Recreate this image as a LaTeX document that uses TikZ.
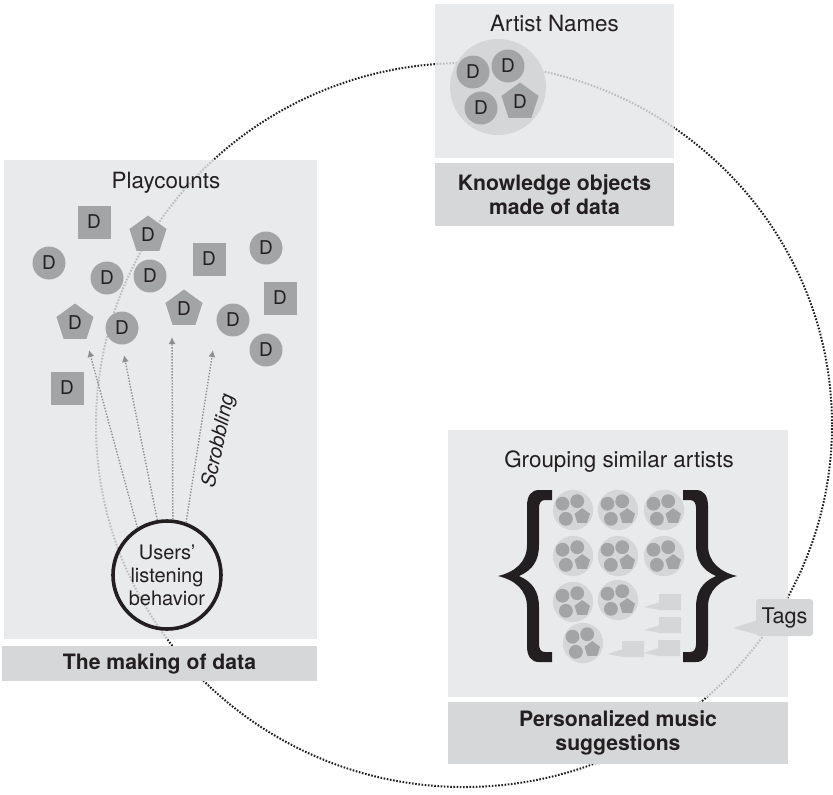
\documentclass[tikz,border=0pt]{standalone}
\usepackage{fontspec}
\setmainfont{TeX Gyre Heros}
\usepackage{tikz}
\usetikzlibrary{shapes,arrows.meta}
\definecolor{ink}{HTML}{231F20}
\definecolor{panelgray}{HTML}{E4E5E6}
\definecolor{labelgray}{HTML}{D6D7D8}
\definecolor{dgray}{HTML}{A3A4A6}
\definecolor{clustergray}{HTML}{D5D6D7}
\definecolor{orbitgray}{HTML}{1E1E1E}
\definecolor{arrowgray}{HTML}{8E8F91}
\newcommand{\dfont}{\fontsize{9.5}{11}\selectfont}
\newcommand{\titlefont}{\fontsize{11.2}{13}\selectfont}
\newcommand{\boldfont}{\fontsize{10.6}{11.8}\selectfont\bfseries}
\newcommand{\bracepath}{(54,-86) -- (41,-86) .. controls (33,-86) and (29,-80) .. (29,-70) -- (29,-31) .. controls (29,-14) and (17,-4) .. (0,0) .. controls (17,4) and (29,14) .. (29,31) -- (29,70) .. controls (29,80) and (33,86) .. (41,86) -- (54,86) -- (54,76) -- (47,76) .. controls (43,76) and (41,73) .. (41,68) -- (41,31) .. controls (41,16) and (35,6) .. (21,0) .. controls (35,-6) and (41,-16) .. (41,-31) -- (41,-68) .. controls (41,-73) and (43,-76) .. (47,-76) -- (54,-76) -- cycle}

\begin{document}
\begin{tikzpicture}[x=0.5pt, y=-0.5pt,
  orbit/.style={draw=orbitgray, line width=1pt, dash pattern=on 0.8pt off 0.8pt},
  panel/.style={fill=panelgray, fill opacity=0.8},
  label box/.style={fill=labelgray, inner sep=0pt, align=center, text=ink, font=\boldfont},
  title/.style={text=ink, font=\titlefont},
  data circ/.style={circle, fill=dgray, minimum size=16.5pt, inner sep=0pt, text=ink, font=\dfont},
  data sq/.style={rectangle, fill=dgray, minimum size=16.5pt, inner sep=0pt, text=ink, font=\dfont},
  data pent/.style={regular polygon, regular polygon sides=5, fill=dgray, minimum size=19.5pt, inner sep=0pt, text=ink, font=\dfont},
  cluster/.style={circle, fill=clustergray, minimum size=48pt, inner sep=0pt},
  flow arrow/.style={draw=arrowgray, line width=0.7pt, dash pattern=on 0.7pt off 0.8pt, -{Latex[length=3.5pt,width=3.5pt]}},
  bubble/.style={fill=clustergray}]
\useasboundingbox (0,0) rectangle (833,794);

% the circle of data
\draw[orbit] (464,425) ellipse [x radius=368, y radius=362];

% panels
\fill[panel] (4,160) rectangle (317,639);
\fill[panel] (435,4) rectangle (674,158);
\fill[panel] (448,430) rectangle (788,697);

\node[label box, minimum width=157.5pt, minimum height=17.5pt] (making) at (159.5,663.5) {The making of data};
\node[label box, minimum width=119.5pt, minimum height=31.5pt] (knowledge) at (554.5,194.5) {Knowledge objects\\made of data};
\node[label box, minimum width=170pt, minimum height=31pt] (personal) at (618,733) {Personalized music\\suggestions};

% playcounts
\node[title] (playcounts) at (166,183) {Playcounts};
\node[data sq] (d1) at (94,222) {D};
\node[data pent] (d2) at (148,235) {D};
\node[data circ] (d3) at (49,263) {D};
\node[data circ] (d4) at (107,278) {D};
\node[data circ] (d5) at (150,276) {D};
\node[data sq] (d6) at (209,259) {D};
\node[data circ] (d7) at (266,248) {D};
\node[data sq] (d8) at (280,298) {D};
\node[data pent] (d9) at (184,309) {D};
\node[data circ] (d10) at (233,320) {D};
\node[data circ] (d11) at (266,350) {D};
\node[data pent] (d12) at (75,323) {D};
\node[data circ] (d13) at (122,328) {D};
\node[data sq] (d14) at (67,388) {D};

\node[circle, draw=ink, line width=1.8pt, minimum size=54pt, inner sep=0pt, align=center, text=ink, font=\fontsize{10}{11.5}\selectfont] (users) at (167,575) {Users’\\listening\\behavior};
\coordinate (t1) at (89,350);
\coordinate (t2) at (124,355);
\coordinate (t3) at (172,337);
\coordinate (t4) at (213,350);
\draw[flow arrow] (users.122) -- (t1);
\draw[flow arrow] (users.100) -- (t2);
\draw[flow arrow] (users.84) -- (t3);
\draw[flow arrow] (users.70) -- (t4);
\node[rotate=78, text=ink, font=\fontsize{10}{12}\selectfont\itshape] (scrobbling) at (219,441) {Scrobbling};

% artist names
\node[title] (artists) at (554.5,23) {Artist Names};
\node[cluster] (c0) at (498,87) {};
\node[data circ] (a1) at (473,72) {D};
\node[data circ] (a2) at (508,66) {D};
\node[data circ] (a3) at (481,108) {D};
\node[data pent] (a4) at (520,102) {D};

% grouping similar artists
\node[title] (grouping) at (619,462) {Grouping similar artists};
\foreach \cx/\cy [count=\i] in {573/510, 618/510, 664/510, 573/556, 618/556, 664/556, 573/602, 618/600, 583/643}{
  \begin{scope}[shift={(\cx,\cy)}, scale=0.42, transform shape]
    \node[cluster] (g\i) at (0,0) {};
    \node[data circ] (g\i a) at (-25,-15) {};
    \node[data circ] (g\i b) at (10,-21) {};
    \node[data circ] (g\i c) at (-17,21) {};
    \node[data pent] (g\i d) at (22,15) {};
  \end{scope}
}
\fill[ink, shift={(498,576)}] \bracepath;
\fill[ink, shift={(737,576)}, xscale=-1] \bracepath;

\foreach \bx/\by in {659/594, 659/617, 658/640, 622/641}
  \fill[bubble] (\bx,\by) rectangle (\bx+22,\by+16) (\bx+1,\by+8) -- (\bx-15,\by+13) -- (\bx+1,\by+16) -- cycle;

\fill[bubble] (758,620) -- (733,628) -- (762,636) -- cycle;
\node[fill=clustergray, rounded corners=1.5pt, minimum width=28.5pt, minimum height=18.5pt, inner sep=0pt, text=ink, font=\fontsize{10.8}{13}\selectfont] (tags) at (784.5,617.5) {Tags};
\end{tikzpicture}
\end{document}
